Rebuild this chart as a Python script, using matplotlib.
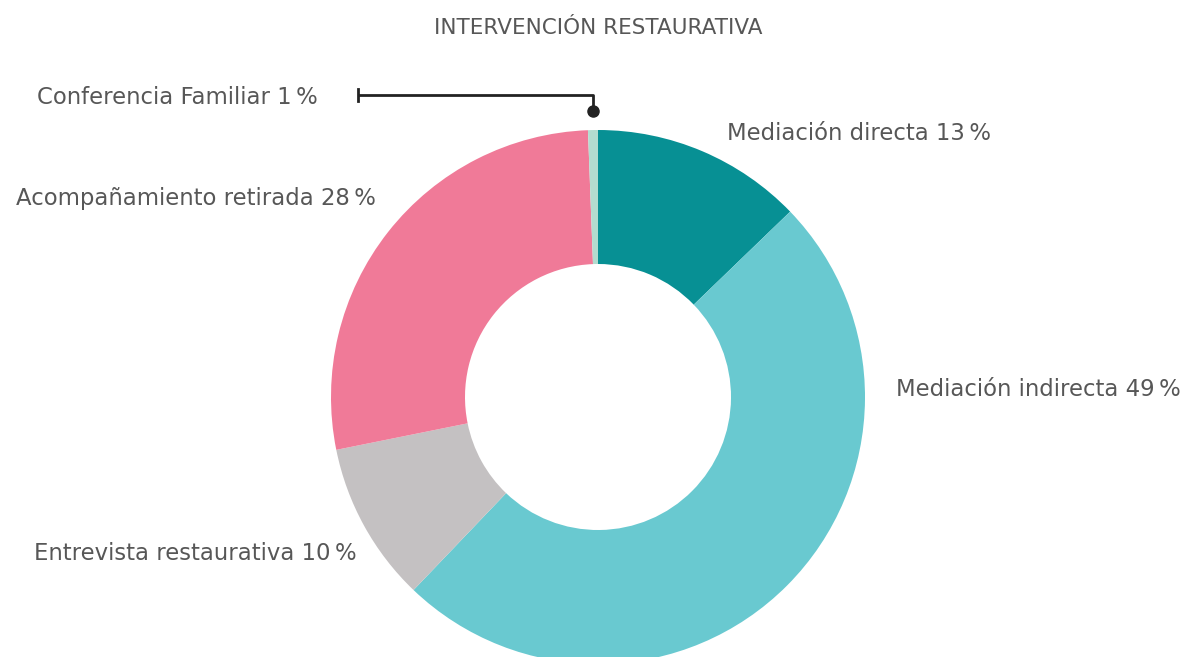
import matplotlib
matplotlib.use("Agg")
import matplotlib.pyplot as plt

title = "INTERVENCIÓN RESTAURATIVA"
categories = ["Mediación directa", "Mediación indirecta", "Entrevista restaurativa",
              "Acompañamiento retirada", "Conferencia Familiar"]
values = [12.8, 49.4, 9.7, 27.6, 0.6]
pct_labels = ["13", "49", "10", "28", "1"]
colors = ["#079094", "#69c9d0", "#c4c1c2", "#f07a98", "#b3dccf"]

W, H = 1195, 657
fig = plt.figure(figsize=(W / 100, H / 100), dpi=100)
ax = fig.add_axes([0, 0, 1, 1])

cx, cy, R = 598, H - 397, 267
ax.pie(values, colors=colors, startangle=90, counterclock=False,
       center=(cx, cy), radius=R, frame=True,
       wedgeprops=dict(width=R - 133, linewidth=0))
ax.set_xlim(0, W)
ax.set_ylim(0, H)
ax.set_aspect("equal")
ax.axis("off")

fam = ["DejaVu Sans"]
tc = "#575757"
fs = 16.4

ax.text(598, H - 28, title, ha="center", va="center", fontsize=15.5, color=tc, family=fam)

def lab(i):
    return f"{categories[i]} {pct_labels[i]}\u2009%"

ax.text(727, H - 133, lab(0), ha="left", va="center", fontsize=fs, color=tc, family=fam)
ax.text(896, H - 389, lab(1), ha="left", va="center", fontsize=fs, color=tc, family=fam)
ax.text(357, H - 553, lab(2), ha="right", va="center", fontsize=fs, color=tc, family=fam)
ax.text(376, H - 199, lab(3), ha="right", va="center", fontsize=fs, color=tc, family=fam)
ax.text(318, H - 97, lab(4), ha="right", va="center", fontsize=fs, color=tc, family=fam)

lc = "#222222"
ax.plot([358, 593, 593], [H - 95, H - 95, H - 110], color=lc, lw=2, solid_capstyle="butt")
ax.plot([358, 358], [H - 89, H - 101], color=lc, lw=2)
ax.plot([593], [H - 111], "o", color=lc, markersize=8)

fig.savefig("out.png", dpi=100)
